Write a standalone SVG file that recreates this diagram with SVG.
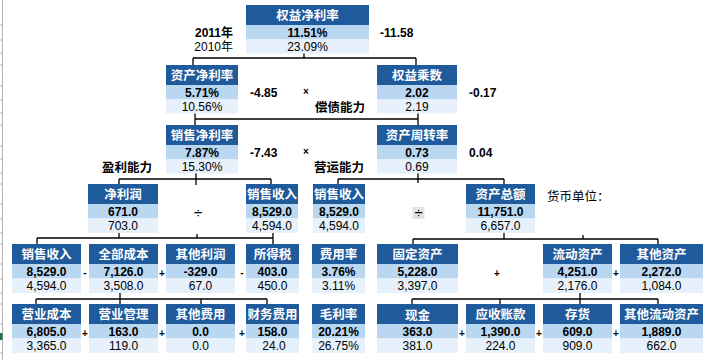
<svg xmlns="http://www.w3.org/2000/svg" width="726" height="360" viewBox="0 0 726 360">
<style>
.h{fill:#1f5a9c}
.v{fill:#b9d7f0}
.p{fill:#e7f1fb}
text{font-family:"Liberation Sans","Noto Sans CJK SC",sans-serif}
.ht{font-size:12.5px;font-weight:bold;fill:#fff;text-anchor:middle}
.vt{font-size:12px;font-weight:bold;fill:#000;text-anchor:middle}
.pt{font-size:12px;fill:#000;text-anchor:middle}
.lb{font-size:12px;font-weight:bold;fill:#000}
.cap{font-size:12.5px;font-weight:bold;fill:#000}
.op{font-size:10px;font-weight:bold;fill:#000;text-anchor:middle}
.dv{font-size:15px;fill:#000;text-anchor:middle}
.conn path{stroke:#000;stroke-width:1.3;fill:none}
</style>
<rect width="726" height="360" fill="#fff"/>
<g id="sheet-edge" stroke="#b4b4b4" stroke-width="1">
<path d="M2.5 0V360"/>
<path d="M0 25H2M0 40H2M0 53H2M0 65H2M0 86H2M0 100H2M0 113H2M0 125H2M0 146H2M0 159H2M0 173H2M0 184H2M0 204H2M0 219H2M0 233H2M0 244H2M0 264H2M0 279H2M0 293H2M0 304H2M0 324H2M0 339H2M0 353H2"/>
</g>
<rect x="0" y="333" width="2.5" height="7" fill="#217346"/>

<g class="conn" id="connectors">
<path d="M304 53V58M193 58H416M193 58V65M416 58V65"/>
<path d="M195 113V125M195 119H418M418 113V125"/>
<path d="M196 173V185M119 179H271M119 179V184M271 179V184"/>
<path d="M418 173V183M338 179H504M338 179V184M504 179V184"/>
<path d="M119 233V238M37 238H273M37 238V244M273 233V244M197 234V238"/>
<path d="M504 233V239M413 239H658M413 239V244M658 239V244M583 235V239"/>
<path d="M120 293V304M36 299H267M36 299V304M201 299V304M267 299V304"/>
<path d="M580 293V304M412 299H658M412 299V304M500 299V304M658 299V304"/>
</g>

<!-- Row 1 -->
<g id="n-roe"><rect class="h" x="246" y="5" width="123" height="20"/><rect class="v" x="246" y="25" width="123" height="14.5"/><rect class="p" x="246" y="39.5" width="123" height="14"/><text class="ht" x="307.5" y="19.7">权益净利率</text><text class="vt" x="307.5" y="36.5">11.51%</text><text class="pt" x="307.5" y="50.8">23.09%</text></g>

<!-- Row 2 -->
<g id="n-roa"><rect class="h" x="166" y="65" width="72" height="20"/><rect class="v" x="166" y="85" width="72" height="14.5"/><rect class="p" x="166" y="99.5" width="72" height="14"/><text class="ht" x="202" y="79.7">资产净利率</text><text class="vt" x="202" y="96.5">5.71%</text><text class="pt" x="202" y="110.8">10.56%</text></g>
<g id="n-em"><rect class="h" x="377" y="65" width="80" height="20"/><rect class="v" x="377" y="85" width="80" height="14.5"/><rect class="p" x="377" y="99.5" width="80" height="14"/><text class="ht" x="417" y="79.7">权益乘数</text><text class="vt" x="417" y="96.5">2.02</text><text class="pt" x="417" y="110.8">2.19</text></g>

<!-- Row 3 -->
<g id="n-npm"><rect class="h" x="166" y="125" width="72" height="20"/><rect class="v" x="166" y="145" width="72" height="14.5"/><rect class="p" x="166" y="159.5" width="72" height="14"/><text class="ht" x="202" y="139.7">销售净利率</text><text class="vt" x="202" y="156.5">7.87%</text><text class="pt" x="202" y="170.8">15.30%</text></g>
<g id="n-at"><rect class="h" x="377" y="125" width="80" height="20"/><rect class="v" x="377" y="145" width="80" height="14.5"/><rect class="p" x="377" y="159.5" width="80" height="14"/><text class="ht" x="417" y="139.7">资产周转率</text><text class="vt" x="417" y="156.5">0.73</text><text class="pt" x="417" y="170.8">0.69</text></g>

<!-- Row 4 -->
<g id="n-ni"><rect class="h" x="88" y="184" width="70" height="20"/><rect class="v" x="88" y="204" width="70" height="14.5"/><rect class="p" x="88" y="218.5" width="70" height="14.5"/><text class="ht" x="123" y="198.7">净利润</text><text class="vt" x="123" y="215.5">671.0</text><text class="pt" x="123" y="230">703.0</text></g>
<g id="n-rev1"><rect class="h" x="246" y="184" width="52" height="20"/><rect class="v" x="246" y="204" width="52" height="14.5"/><rect class="p" x="246" y="218.5" width="52" height="14.5"/><text class="ht" x="272" y="198.7">销售收入</text><text class="vt" x="272" y="215.5">8,529.0</text><text class="pt" x="272" y="230">4,594.0</text></g>
<g id="n-rev2"><rect class="h" x="313" y="184" width="52" height="20"/><rect class="v" x="313" y="204" width="52" height="14.5"/><rect class="p" x="313" y="218.5" width="52" height="14.5"/><text class="ht" x="339" y="198.7">销售收入</text><text class="vt" x="339" y="215.5">8,529.0</text><text class="pt" x="339" y="230">4,594.0</text></g>
<g id="n-ta"><rect class="h" x="466" y="184" width="69" height="20"/><rect class="v" x="466" y="204" width="69" height="14.5"/><rect class="p" x="466" y="218.5" width="69" height="14.5"/><text class="ht" x="500.5" y="198.7">资产总额</text><text class="vt" x="500.5" y="215.5">11,751.0</text><text class="pt" x="500.5" y="230">6,657.0</text></g>

<!-- Row 5 -->
<g id="n-rev3"><rect class="h" x="12" y="244" width="69" height="20"/><rect class="v" x="12" y="264" width="69" height="14.5"/><rect class="p" x="12" y="278.5" width="69" height="14.5"/><text class="ht" x="46.5" y="258.7">销售收入</text><text class="vt" x="46.5" y="275.5">8,529.0</text><text class="pt" x="46.5" y="290">4,594.0</text></g>
<g id="n-tc"><rect class="h" x="89" y="244" width="69" height="20"/><rect class="v" x="89" y="264" width="69" height="14.5"/><rect class="p" x="89" y="278.5" width="69" height="14.5"/><text class="ht" x="123.5" y="258.7">全部成本</text><text class="vt" x="123.5" y="275.5">7,126.0</text><text class="pt" x="123.5" y="290">3,508.0</text></g>
<g id="n-op"><rect class="h" x="166" y="244" width="69" height="20"/><rect class="v" x="166" y="264" width="69" height="14.5"/><rect class="p" x="166" y="278.5" width="69" height="14.5"/><text class="ht" x="200.5" y="258.7">其他利润</text><text class="vt" x="200.5" y="275.5">-329.0</text><text class="pt" x="200.5" y="290">67.0</text></g>
<g id="n-tax"><rect class="h" x="246" y="244" width="53" height="20"/><rect class="v" x="246" y="264" width="53" height="14.5"/><rect class="p" x="246" y="278.5" width="53" height="14.5"/><text class="ht" x="272.5" y="258.7">所得税</text><text class="vt" x="272.5" y="275.5">403.0</text><text class="pt" x="272.5" y="290">450.0</text></g>
<g id="n-er"><rect class="h" x="312" y="244" width="53" height="20"/><rect class="v" x="312" y="264" width="53" height="14.5"/><rect class="p" x="312" y="278.5" width="53" height="14.5"/><text class="ht" x="338.5" y="258.7">费用率</text><text class="vt" x="338.5" y="275.5">3.76%</text><text class="pt" x="338.5" y="290">3.11%</text></g>
<g id="n-fa"><rect class="h" x="377" y="244" width="81" height="20"/><rect class="v" x="377" y="264" width="81" height="14.5"/><rect class="p" x="377" y="278.5" width="81" height="14.5"/><text class="ht" x="417.5" y="258.7">固定资产</text><text class="vt" x="417.5" y="275.5">5,228.0</text><text class="pt" x="417.5" y="290">3,397.0</text></g>
<g id="n-ca"><rect class="h" x="543" y="244" width="69" height="20"/><rect class="v" x="543" y="264" width="69" height="14.5"/><rect class="p" x="543" y="278.5" width="69" height="14.5"/><text class="ht" x="577.5" y="258.7">流动资产</text><text class="vt" x="577.5" y="275.5">4,251.0</text><text class="pt" x="577.5" y="290">2,176.0</text></g>
<g id="n-oa"><rect class="h" x="620" y="244" width="83" height="20"/><rect class="v" x="620" y="264" width="83" height="14.5"/><rect class="p" x="620" y="278.5" width="83" height="14.5"/><text class="ht" x="661.5" y="258.7">其他资产</text><text class="vt" x="661.5" y="275.5">2,272.0</text><text class="pt" x="661.5" y="290">1,084.0</text></g>

<!-- Row 6 -->
<g id="n-cogs"><rect class="h" x="12" y="304" width="69" height="20"/><rect class="v" x="12" y="324" width="69" height="14.5"/><rect class="p" x="12" y="338.5" width="69" height="14.5"/><text class="ht" x="46.5" y="318.7">营业成本</text><text class="vt" x="46.5" y="335.5">6,805.0</text><text class="pt" x="46.5" y="350">3,365.0</text></g>
<g id="n-adm"><rect class="h" x="89" y="304" width="69" height="20"/><rect class="v" x="89" y="324" width="69" height="14.5"/><rect class="p" x="89" y="338.5" width="69" height="14.5"/><text class="ht" x="123.5" y="318.7">营业管理</text><text class="vt" x="123.5" y="335.5">163.0</text><text class="pt" x="123.5" y="350">119.0</text></g>
<g id="n-oe"><rect class="h" x="166" y="304" width="69" height="20"/><rect class="v" x="166" y="324" width="69" height="14.5"/><rect class="p" x="166" y="338.5" width="69" height="14.5"/><text class="ht" x="200.5" y="318.7">其他费用</text><text class="vt" x="200.5" y="335.5">0.0</text><text class="pt" x="200.5" y="350">0.0</text></g>
<g id="n-fin"><rect class="h" x="246" y="304" width="53" height="20"/><rect class="v" x="246" y="324" width="53" height="14.5"/><rect class="p" x="246" y="338.5" width="53" height="14.5"/><text class="ht" x="272.5" y="318.7">财务费用</text><text class="vt" x="272.5" y="335.5">158.0</text><text class="pt" x="274" y="350">24.0</text></g>
<g id="n-gm"><rect class="h" x="312" y="304" width="53" height="20"/><rect class="v" x="312" y="324" width="53" height="14.5"/><rect class="p" x="312" y="338.5" width="53" height="14.5"/><text class="ht" x="338.5" y="318.7">毛利率</text><text class="vt" x="338.5" y="335.5">20.21%</text><text class="pt" x="338.5" y="350">26.75%</text></g>
<g id="n-cash"><rect class="h" x="377" y="304" width="81" height="20"/><rect class="v" x="377" y="324" width="81" height="14.5"/><rect class="p" x="377" y="338.5" width="81" height="14.5"/><text class="ht" x="417.5" y="319.5">现金</text><text class="vt" x="417.5" y="335.5">363.0</text><text class="pt" x="417.5" y="350">381.0</text></g>
<g id="n-ar"><rect class="h" x="466" y="304" width="69" height="20"/><rect class="v" x="466" y="324" width="69" height="14.5"/><rect class="p" x="466" y="338.5" width="69" height="14.5"/><text class="ht" x="500.5" y="318.7">应收账款</text><text class="vt" x="500.5" y="335.5">1,390.0</text><text class="pt" x="500.5" y="350">224.0</text></g>
<g id="n-inv"><rect class="h" x="543" y="304" width="69" height="20"/><rect class="v" x="543" y="324" width="69" height="14.5"/><rect class="p" x="543" y="338.5" width="69" height="14.5"/><text class="ht" x="577.5" y="318.7">存货</text><text class="vt" x="577.5" y="335.5">609.0</text><text class="pt" x="577.5" y="350">909.0</text></g>
<g id="n-oca"><rect class="h" x="620" y="304" width="83" height="20"/><rect class="v" x="620" y="324" width="83" height="14.5"/><rect class="p" x="620" y="338.5" width="83" height="14.5"/><text class="ht" x="661.5" y="318.7">其他流动资产</text><text class="vt" x="661.5" y="335.5">1,889.0</text><text class="pt" x="661.5" y="350">662.0</text></g>

<!-- labels -->
<g id="labels">
<text class="lb" x="233" y="36.5" text-anchor="end">2011年</text>
<text x="233" y="50.8" text-anchor="end" font-size="12">2010年</text>
<text class="lb" x="380" y="36.5">-11.58</text>
<text class="lb" x="250" y="96.5">-4.85</text>
<text class="lb" x="469" y="96.5">-0.17</text>
<text class="lb" x="250" y="156.5">-7.43</text>
<text class="lb" x="469" y="156.5">0.04</text>
<text class="cap" x="315" y="112">偿债能力</text>
<text class="cap" x="314" y="172">营运能力</text>
<text class="cap" x="102" y="172">盈利能力</text>
<text x="547" y="201" font-size="12.5">货币单位：</text>
<text class="op" x="306" y="95">×</text>
<text class="op" x="306" y="155">×</text>
<text class="dv" x="198" y="218">÷</text>
<rect x="412.5" y="207" width="12" height="12" fill="#e4e4e4"/>
<text class="dv" x="418.5" y="218">÷</text>
<text class="op" x="85" y="276">-</text>
<text class="op" x="162" y="277">+</text>
<text class="op" x="242" y="276">-</text>
<text class="op" x="497" y="277">+</text>
<text class="op" x="616" y="277">+</text>
<text class="op" x="85" y="337">+</text>
<text class="op" x="162" y="337">+</text>
<text class="op" x="242" y="337">+</text>
<text class="op" x="462" y="337">+</text>
<text class="op" x="539" y="337">+</text>
<text class="op" x="616" y="337">+</text>
</g>
</svg>
